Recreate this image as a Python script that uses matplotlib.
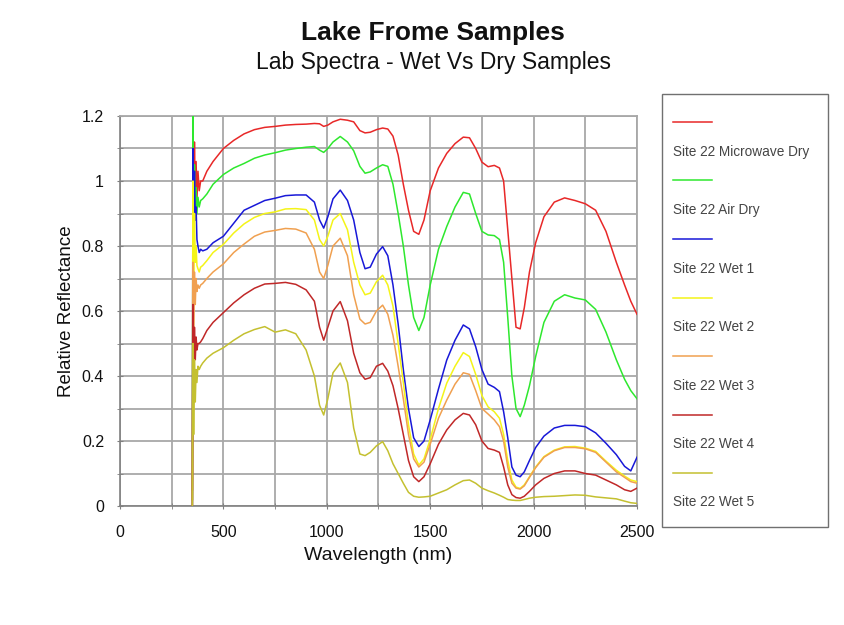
import matplotlib
matplotlib.use("Agg")
import matplotlib.pyplot as plt
from matplotlib.lines import Line2D
from matplotlib.patches import Rectangle
from matplotlib.ticker import MultipleLocator, FuncFormatter

plt.rcParams['font.family'] = ['Liberation Sans', 'DejaVu Sans']

# Wavelength samples (nm)
wavelength = [350, 353, 356, 360, 364, 368, 372, 377, 383, 390, 400, 420, 450, 500,
              550, 600, 650, 700, 750, 800, 850, 900, 940, 965, 985, 1005, 1030,
              1065, 1100, 1130, 1160, 1185, 1210, 1240, 1270, 1295, 1320, 1345,
              1370, 1395, 1420, 1445, 1470, 1500, 1540, 1580, 1620, 1660, 1690,
              1720, 1750, 1780, 1810, 1835, 1855, 1875, 1895, 1915, 1935, 1955,
              1980, 2010, 2050, 2100, 2150, 2200, 2250, 2300, 2350, 2400, 2440,
              2470, 2500]

microwave_dry = [0.05, 1.25, 0.88, 1.12, 0.95, 1.06, 0.94, 1.03, 0.97, 1.0, 1.0, 1.03,
                 1.06, 1.1, 1.125, 1.145, 1.158, 1.165, 1.168, 1.172, 1.174, 1.175,
                 1.177, 1.176, 1.168, 1.172, 1.182, 1.19, 1.187, 1.182, 1.155, 1.148,
                 1.15, 1.158, 1.163, 1.16, 1.138, 1.08, 0.99, 0.91, 0.845, 0.836,
                 0.88, 0.97, 1.04, 1.085, 1.115, 1.135, 1.133, 1.1, 1.058, 1.044,
                 1.048, 1.04, 1.0, 0.85, 0.7, 0.55, 0.545, 0.61, 0.72, 0.81, 0.89,
                 0.935, 0.948, 0.94, 0.93, 0.91, 0.845, 0.75, 0.68, 0.63, 0.59]

air_dry = [0.02, 1.25, 0.8, 1.05, 0.88, 0.98, 0.9, 0.95, 0.92, 0.94, 0.945, 0.96,
           0.99, 1.02, 1.04, 1.054, 1.07, 1.08, 1.087, 1.095, 1.1, 1.104, 1.106,
           1.095, 1.088, 1.1, 1.12, 1.137, 1.12, 1.093, 1.045, 1.024, 1.028, 1.04,
           1.05, 1.045, 0.99, 0.9, 0.8, 0.68, 0.58, 0.54, 0.58, 0.68, 0.79, 0.86,
           0.92, 0.965, 0.96, 0.9, 0.845, 0.834, 0.832, 0.82, 0.75, 0.58, 0.4,
           0.3, 0.275, 0.31, 0.37, 0.46, 0.565, 0.63, 0.65, 0.64, 0.634, 0.605,
           0.535, 0.45, 0.39, 0.355, 0.33]

wet_1 = [0.0, 1.1, 0.85, 1.03, 0.88, 0.92, 0.82, 0.8, 0.78, 0.79, 0.785, 0.79,
         0.81, 0.83, 0.87, 0.91, 0.925, 0.94, 0.947, 0.955, 0.957, 0.957, 0.935,
         0.88, 0.855, 0.89, 0.945, 0.972, 0.94, 0.88, 0.78, 0.73, 0.735, 0.775,
         0.798, 0.77, 0.68, 0.56, 0.42, 0.3, 0.21, 0.183, 0.2, 0.265, 0.36, 0.449,
         0.51, 0.557, 0.545, 0.49, 0.42, 0.375, 0.365, 0.352, 0.29, 0.21, 0.12,
         0.095, 0.09, 0.105, 0.14, 0.18, 0.215, 0.24, 0.248, 0.248, 0.244, 0.225,
         0.193, 0.158, 0.122, 0.108, 0.15]

wet_2 = [0.0, 1.0, 0.7, 0.9, 0.75, 0.8, 0.74, 0.73, 0.72, 0.735, 0.74, 0.755,
         0.78, 0.805, 0.84, 0.868, 0.888, 0.9, 0.905, 0.914, 0.915, 0.912, 0.88,
         0.82, 0.8, 0.83, 0.88, 0.9, 0.85, 0.75, 0.68, 0.65, 0.655, 0.69, 0.71,
         0.68, 0.615, 0.5, 0.38, 0.25, 0.16, 0.126, 0.145, 0.205, 0.3, 0.378,
         0.43, 0.472, 0.46, 0.405, 0.34, 0.305, 0.29, 0.27, 0.22, 0.14, 0.08,
         0.058, 0.054, 0.065, 0.09, 0.12, 0.152, 0.172, 0.182, 0.183, 0.178,
         0.168, 0.138, 0.11, 0.092, 0.08, 0.075]

wet_3 = [0.02, 0.75, 0.55, 0.72, 0.62, 0.7, 0.66, 0.68, 0.67, 0.68, 0.685, 0.7,
         0.72, 0.745, 0.78, 0.806, 0.83, 0.843, 0.848, 0.854, 0.852, 0.84, 0.79,
         0.72, 0.7, 0.74, 0.8, 0.824, 0.77, 0.65, 0.575, 0.56, 0.565, 0.6, 0.618,
         0.59, 0.525, 0.43, 0.33, 0.22, 0.145, 0.12, 0.135, 0.19, 0.27, 0.326,
         0.375, 0.41, 0.405, 0.355, 0.3, 0.283, 0.265, 0.244, 0.2, 0.12, 0.07,
         0.055, 0.052, 0.062, 0.088, 0.118, 0.15, 0.17, 0.18, 0.18, 0.176, 0.165,
         0.135, 0.105, 0.088, 0.075, 0.07]

wet_4 = [0.0, 0.62, 0.4, 0.55, 0.45, 0.52, 0.48, 0.5, 0.5, 0.505, 0.515, 0.54,
         0.565, 0.595, 0.625, 0.65, 0.67, 0.683, 0.685, 0.688, 0.682, 0.665,
         0.63, 0.55, 0.51, 0.55, 0.6, 0.629, 0.57, 0.47, 0.41, 0.39, 0.395, 0.43,
         0.439, 0.415, 0.37, 0.3, 0.22, 0.14, 0.09, 0.075, 0.09, 0.13, 0.19,
         0.234, 0.265, 0.285, 0.28, 0.25, 0.2, 0.177, 0.172, 0.165, 0.12, 0.065,
         0.035, 0.026, 0.024, 0.03, 0.045, 0.065, 0.085, 0.1, 0.108, 0.108, 0.1,
         0.095, 0.08, 0.065, 0.05, 0.045, 0.055]

wet_5 = [0.0, 0.5, 0.22, 0.45, 0.32, 0.42, 0.38, 0.43, 0.42, 0.43, 0.44, 0.455,
         0.47, 0.487, 0.51, 0.53, 0.543, 0.552, 0.535, 0.542, 0.53, 0.48, 0.4,
         0.31, 0.28, 0.33, 0.41, 0.44, 0.38, 0.24, 0.16, 0.155, 0.165, 0.185,
         0.198, 0.17, 0.13, 0.1, 0.07, 0.042, 0.03, 0.027, 0.028, 0.03, 0.04,
         0.05, 0.065, 0.078, 0.08, 0.07, 0.055, 0.047, 0.04, 0.033, 0.027, 0.02,
         0.018, 0.017, 0.017, 0.02, 0.024, 0.027, 0.029, 0.03, 0.032, 0.034,
         0.033, 0.028, 0.025, 0.022, 0.015, 0.01, 0.008]

series_labels = ["Site 22 Microwave Dry", "Site 22 Air Dry", "Site 22 Wet 1",
                 "Site 22 Wet 2", "Site 22 Wet 3", "Site 22 Wet 4", "Site 22 Wet 5"]
series_values = [microwave_dry, air_dry, wet_1, wet_2, wet_3, wet_4, wet_5]
series_colors = ["#e82828", "#2ee82e", "#1818d8", "#f4f418", "#f0a050",
                 "#c02828", "#c4c030"]

fig = plt.figure(figsize=(8.45, 6.25), dpi=100)
fig.patch.set_facecolor("white")
ax = fig.add_axes([120 / 845, 1 - 506 / 625, (637 - 120) / 845, (506 - 116) / 625])

grid_col = "#a8a8a8"
for vals, col in zip(series_values, series_colors):
    ax.plot(wavelength, vals, color=col, lw=1.1, zorder=3)

ax.set_xlim(0, 2500)
ax.set_ylim(0, 1.2)
ax.xaxis.set_major_locator(MultipleLocator(500))
ax.xaxis.set_minor_locator(MultipleLocator(250))
ax.yaxis.set_major_locator(MultipleLocator(0.2))
ax.yaxis.set_minor_locator(MultipleLocator(0.1))
ax.yaxis.set_major_formatter(FuncFormatter(lambda v, p: f"{v:g}"))
ax.grid(True, which="both", color=grid_col, lw=1.3, zorder=1)
ax.set_axisbelow(True)
for side in ["top", "right"]:
    ax.spines[side].set_color(grid_col)
    ax.spines[side].set_linewidth(1.3)
for side in ["left", "bottom"]:
    ax.spines[side].set_color("#808080")
    ax.spines[side].set_linewidth(1.2)
ax.tick_params(which="both", direction="inout", length=5, color="#808080",
               labelsize=11.5, labelcolor="#111111")
ax.tick_params(axis="x", which="major", pad=11)
ax.tick_params(axis="y", which="major", pad=9)
ax.tick_params(which="minor", labelleft=False, labelbottom=False)

ax.set_xlabel("Wavelength (nm)", fontsize=14, color="#111111", labelpad=5)
ax.set_ylabel("Relative Reflectance", fontsize=13.5, color="#111111", labelpad=5)

fig.text(433 / 845, 1 - 33 / 625, "Lake Frome Samples", ha="center", va="center",
         fontsize=19, fontweight="bold", color="#111111")
fig.text(433 / 845, 1 - 63 / 625, "Lab Spectra - Wet Vs Dry Samples", ha="center",
         va="center", fontsize=16.5, color="#111111")

# Legend panel at the right
fig.patches.append(Rectangle((662 / 845, 1 - 527 / 625), (828 - 662) / 845,
                             (527 - 94) / 625, transform=fig.transFigure,
                             facecolor="white", edgecolor="#707070", lw=1.0))
for i, (lab, col) in enumerate(zip(series_labels, series_colors)):
    ly = 1 - (121.7 + 58.6 * i) / 625
    fig.lines.append(Line2D([673 / 845, 712 / 845], [ly, ly], transform=fig.transFigure,
                            color=col, lw=1.1))
    ty = 1 - (152 + 58.4 * i) / 625
    fig.text(673 / 845, ty, lab, ha="left", va="center", fontsize=9.8, color="#454545")

fig.savefig("out.png", dpi=100, facecolor="white")
